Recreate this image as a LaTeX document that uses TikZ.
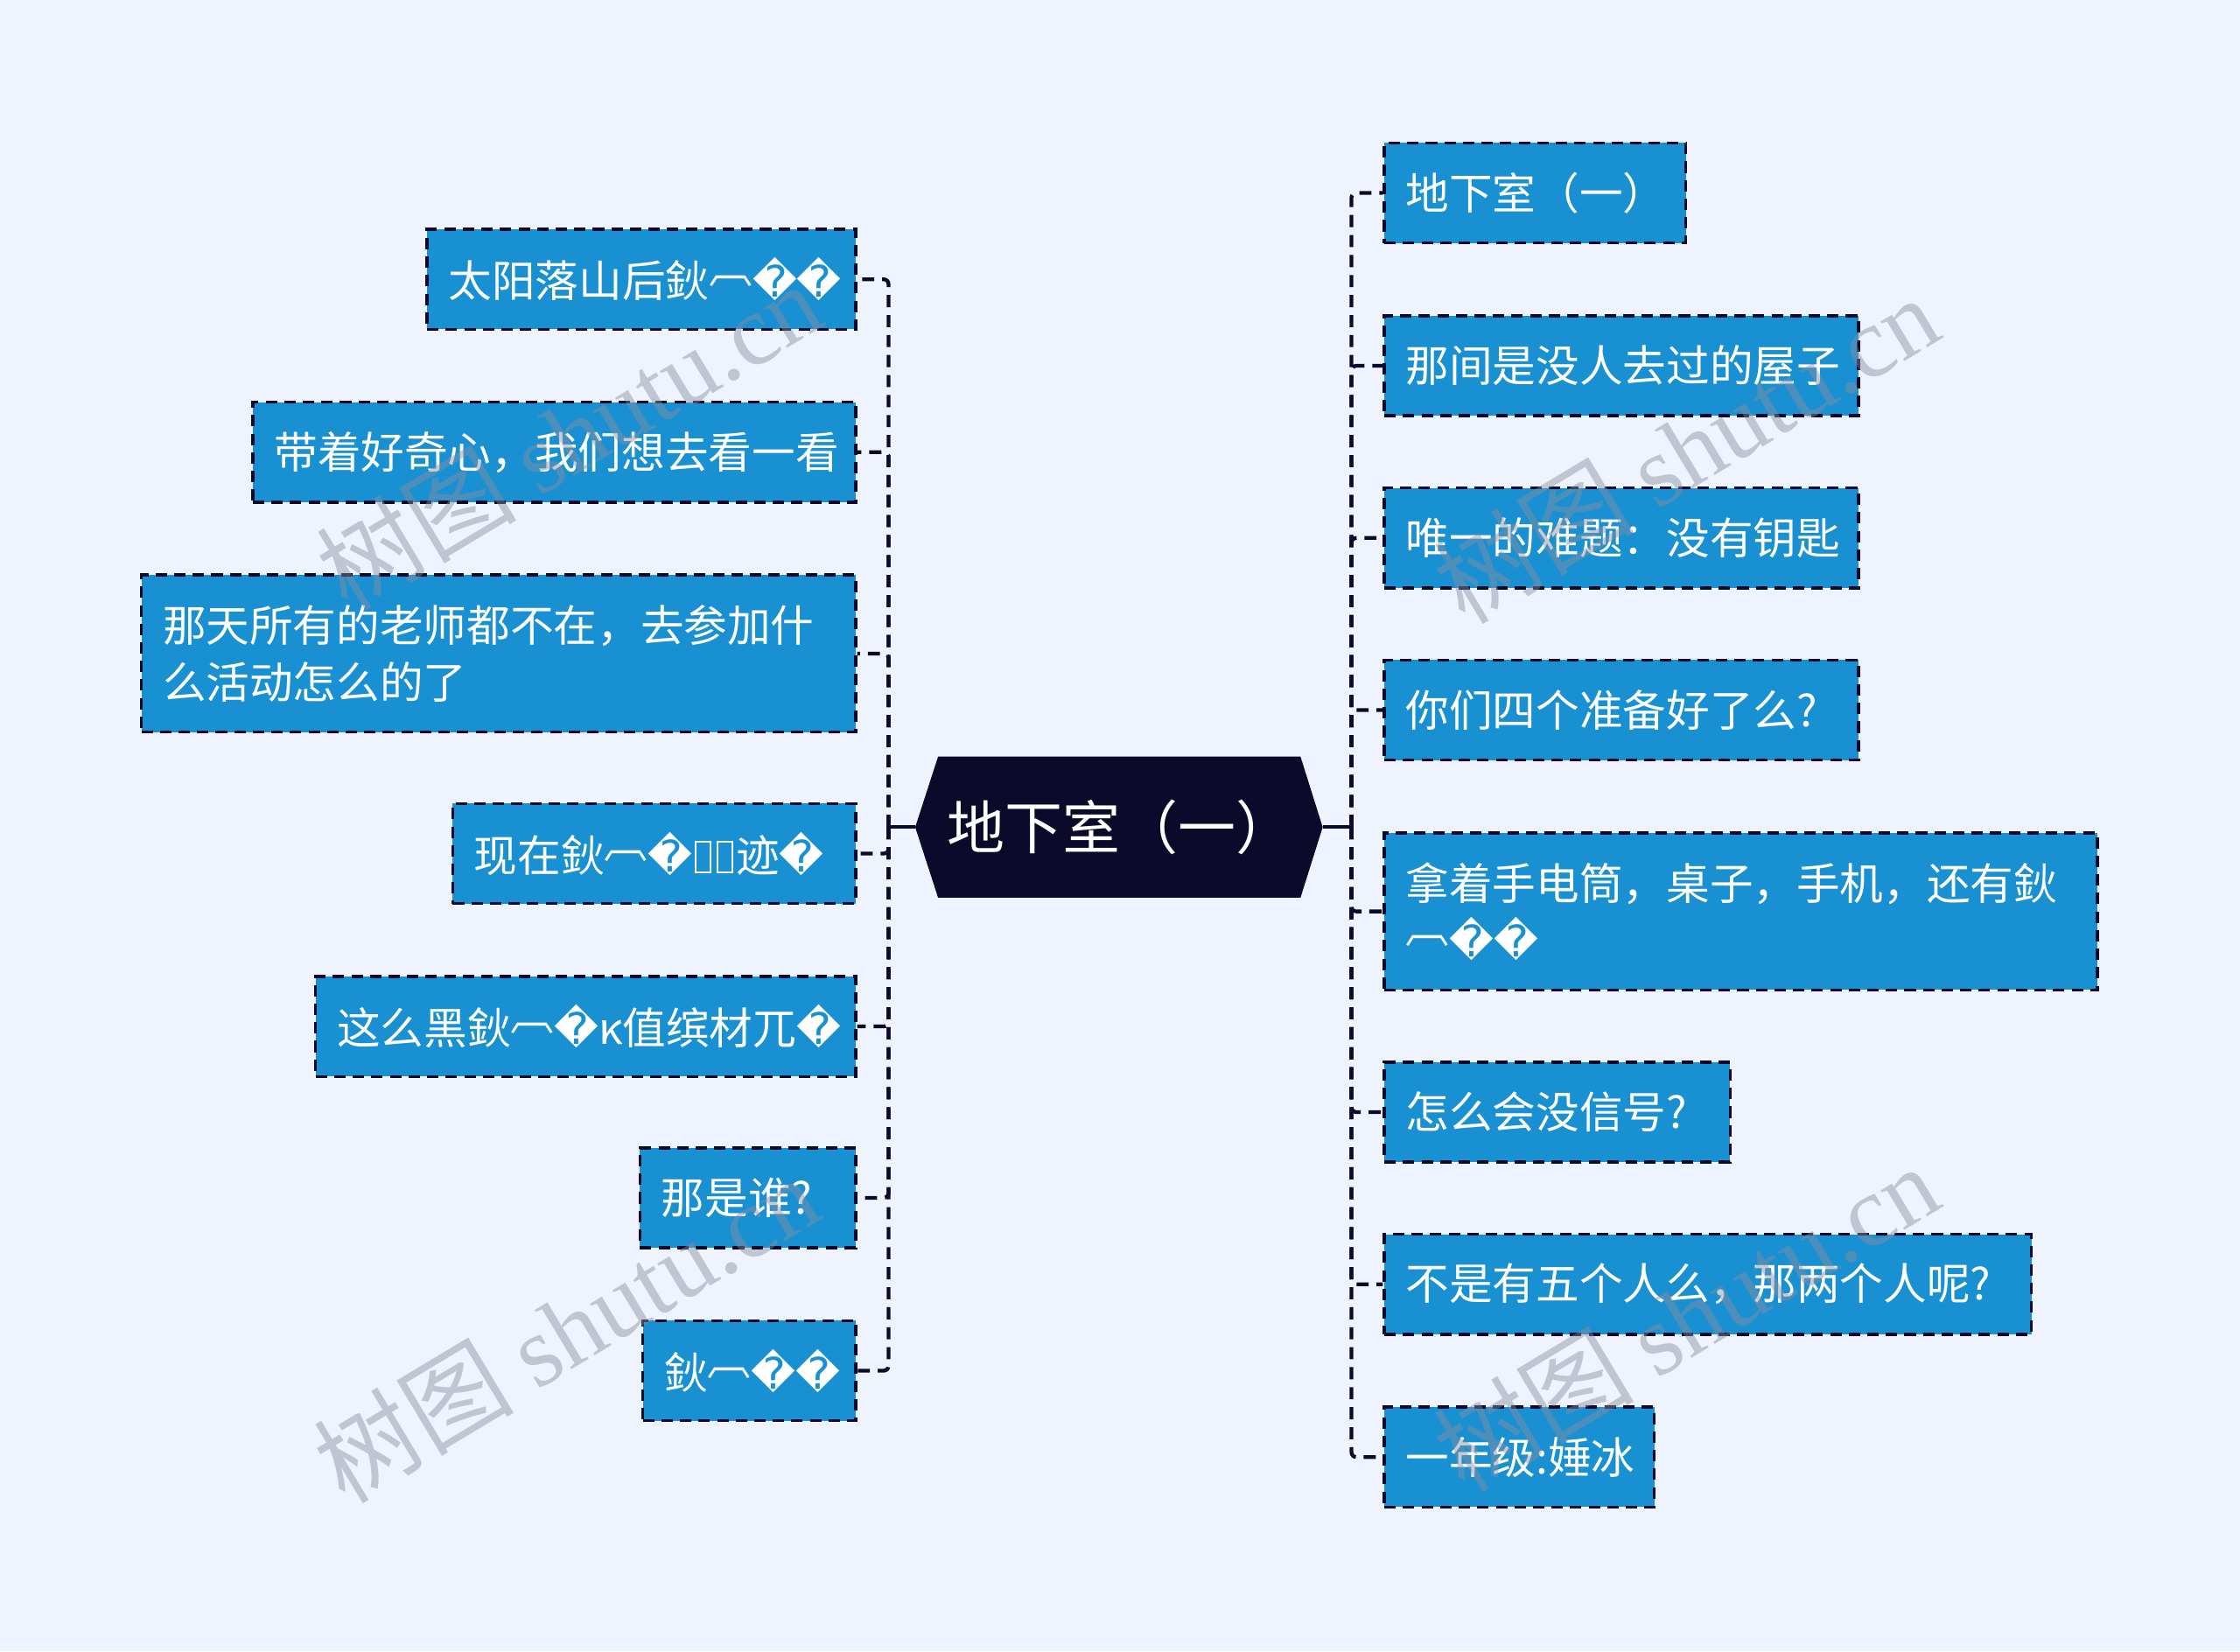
\documentclass[tikz,border=0pt]{standalone}
\usepackage{fontspec}
\setmainfont{Noto Sans CJK SC}
\newfontfamily\dvs{DejaVu Sans}
\newfontfamily\wmser{Liberation Serif}
\usetikzlibrary{backgrounds}
\definecolor{bgcol}{HTML}{EEF3FE}
\definecolor{leafcol}{HTML}{1890D2}
\definecolor{rootcol}{HTML}{0B0A2A}
\definecolor{wmcol}{HTML}{8A8F9E}
\newcommand\qm{{\dvs\char"FFFD}}
\newcommand\tort{\raisebox{0.32em}{︹}}
\newcommand\tofu{{\kern0.06em\fboxsep=0pt\fboxrule=0.7pt\fbox{\rule{0pt}{0.66em}\hspace{0.3em}}\kern0.06em}}

\begin{document}
\begin{tikzpicture}[
leafnode/.style={rectangle, fill=leafcol, draw=rootcol, line width=1.2pt, dash pattern=on 0.16cm off 0.1cm, text=white, font=\fontsize{17.3}{22.8}\selectfont, inner xsep=0.3cm, inner ysep=0pt, minimum height=1.4cm, align=left},
rootnode/.style={rectangle, text=white, font=\fontsize{23}{27}\selectfont, inner xsep=0.12cm, text width=4.82cm, minimum height=1.96cm, align=left},
link/.style={draw=rootcol, line width=1.5pt, dash pattern=on 0.17cm off 0.11cm, rounded corners=2pt},
wmark/.style={text=wmcol, opacity=0.45, font=\fontsize{40}{40}\selectfont, rotate=31},
]
\useasboundingbox (0,0) rectangle (31.36,-23.12);
%Nodes
\node[rootnode] at (15.67,-11.58) (nodeRoot) {地下室（一）};
\coordinate (tipL) at ([xshift=-0.32cm]nodeRoot.west);
\coordinate (tipR) at ([xshift=0.31cm]nodeRoot.east);
\coordinate (spineL) at (12.44,-11.58);
\coordinate (spineR) at (18.92,-11.58);
\begin{scope}[on background layer]
\fill[bgcol] (0,0) rectangle (31.36,-23.12);
\fill[rootcol] (nodeRoot.north west) -- (tipL) -- (nodeRoot.south west) -- (nodeRoot.south east) -- (tipR) -- (nodeRoot.north east) -- cycle;
\end{scope}

\node[leafnode, anchor=east, text width=5.4cm]  at (12.0,-3.91)  (nodeL1) {太阳落山后鈥\tort\qm\qm};
\node[leafnode, anchor=east, text width=7.84cm] at (12.0,-6.33)  (nodeL2) {带着好奇心，我们想去看一看};
\node[leafnode, anchor=east, text width=9.4cm, minimum height=2.2cm] at (12.0,-9.15) (nodeL3) {那天所有的老师都不在，去参加什\\么活动怎么的了};
\node[leafnode, anchor=east, text width=5.04cm] at (12.0,-11.95) (nodeL4) {现在鈥\tort\qm\tofu\tofu{}迹\qm};
\node[leafnode, anchor=east, text width=6.96cm] at (12.0,-14.37) (nodeL5) {这么黑鈥\tort\qm{}κ值缤材兀\qm};
\node[leafnode, anchor=east, text width=2.42cm] at (12.0,-16.77) (nodeL6) {那是谁?};
\node[leafnode, anchor=east, text width=2.38cm] at (12.0,-19.19) (nodeL7) {鈥\tort\qm\qm};

\node[leafnode, anchor=west, text width=3.62cm] at (19.36,-2.7)   (nodeR1) {地下室（一）};
\node[leafnode, anchor=west, text width=6.04cm] at (19.36,-5.12)  (nodeR2) {那间是没人去过的屋子};
\node[leafnode, anchor=west, text width=6.04cm] at (19.36,-7.53)  (nodeR3) {唯一的难题：没有钥匙};
\node[leafnode, anchor=west, text width=6.04cm] at (19.36,-9.94)  (nodeR4) {你们四个准备好了么?};
\node[leafnode, anchor=west, text width=9.38cm, minimum height=2.2cm] at (19.36,-12.76) (nodeR5) {拿着手电筒，桌子，手机，还有鈥\\\tort\qm\qm};
\node[leafnode, anchor=west, text width=4.24cm] at (19.36,-15.57) (nodeR6) {怎么会没信号?};
\node[leafnode, anchor=west, text width=8.46cm] at (19.36,-17.98) (nodeR7) {不是有五个人么，那两个人呢?};
\node[leafnode, anchor=west, text width=3.18cm] at (19.36,-20.4)  (nodeR8) {一年级:娷冰};

%Lines
\draw[rootcol, line width=1.5pt] (tipL) -- (spineL);
\draw[rootcol, line width=1.5pt] (tipR) -- (spineR);
\foreach \n in {L1,L2,L3,L4,L5,L6,L7}
  \draw[link] (spineL) |- (node\n.east);
\foreach \n in {R1,R2,R3,R4,R5,R6,R7,R8}
  \draw[link] (spineR) |- (node\n.west);

%Watermarks
\node[wmark] at (7.96,-6.1)   (markA) {树图 {\wmser shutu.cn}};
\node[wmark] at (23.6,-6.28)  (markB) {树图 {\wmser shutu.cn}};
\node[wmark] at (7.92,-18.6)  (markC) {树图 {\wmser shutu.cn}};
\node[wmark] at (23.6,-18.44) (markD) {树图 {\wmser shutu.cn}};
\end{tikzpicture}
\end{document}
